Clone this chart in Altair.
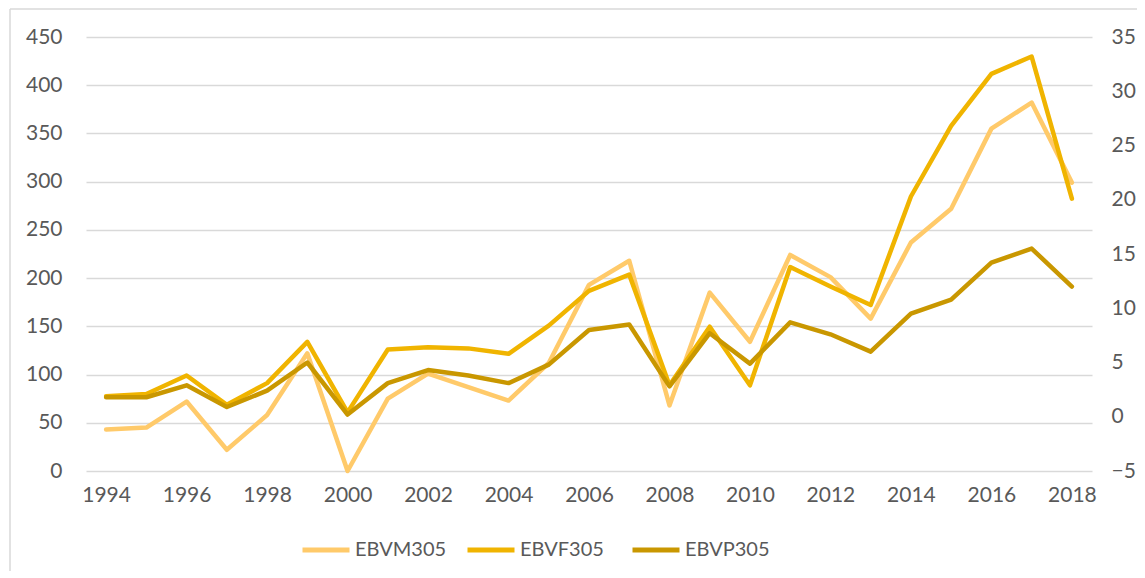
import altair as alt
import pandas as pd

years = list(range(1994, 2019))
series_names = ["EBVM305", "EBVF305", "EBVP305"]
colors = ["#FFCA6A", "#F0B400", "#C99700"]

ebvm305 = [43, 45, 72, 22, 58, 122, 0, 75, 101, 87, 73, 112, 193, 218, 68, 185, 134,
           224, 201, 158, 237, 272, 355, 382, 299]
ebvf305 = [1.9, 2.1, 3.8, 1.1, 3.1, 6.9, 0.4, 6.2, 6.4, 6.3, 5.8, 8.4, 11.6, 13.1, 2.9,
           8.3, 2.9, 13.8, 12.0, 10.3, 20.3, 26.8, 31.6, 33.2, 20.1]
ebvp305 = [1.8, 1.8, 2.9, 0.9, 2.4, 5.0, 0.2, 3.1, 4.3, 3.8, 3.1, 4.8, 8.0, 8.5, 2.8,
           7.7, 4.9, 8.7, 7.6, 6.0, 9.5, 10.8, 14.2, 15.5, 12.0]

left_ticks = list(range(0, 451, 50))
right_ticks = list(range(-5, 36, 5))
x_ticks = list(range(1994, 2019, 2))

df_left = pd.DataFrame({"year": years, "value": ebvm305, "series": "EBVM305"})
df_right = pd.concat([
    pd.DataFrame({"year": years, "value": ebvf305, "series": "EBVF305"}),
    pd.DataFrame({"year": years, "value": ebvp305, "series": "EBVP305"}),
])

FONT = "Lato"
LABEL_COLOR = "#595959"
GRID = "#D9D9D9"
AX_SIZE = 21

color = alt.Color(
    "series:N",
    scale=alt.Scale(domain=series_names, range=colors),
    legend=alt.Legend(
        title=None, orient="none", direction="horizontal",
        legendX=214, legendY=487,
        symbolType="stroke", symbolSize=2209, symbolStrokeWidth=5,
        labelFontSize=20, labelFont=FONT, labelColor=LABEL_COLOR,
        labelOffset=3, columnPadding=10, gridAlign="all",
    ),
    sort=series_names,
)

x = alt.X(
    "year:Q",
    scale=alt.Scale(domain=[1993.5, 2018.5], nice=False, zero=False),
    axis=alt.Axis(values=x_ticks, format="d", title=None, grid=False, domain=False,
                  ticks=False, tickSize=0, labelPadding=13, labelFontSize=AX_SIZE,
                  labelFont=FONT, labelColor=LABEL_COLOR, labelFlush=False),
)

left = alt.Chart(df_left).mark_line(strokeWidth=4.5, strokeJoin="round", strokeCap="round").encode(
    x=x,
    y=alt.Y("value:Q", scale=alt.Scale(domain=[0, 450], nice=False),
            axis=alt.Axis(values=left_ticks, title=None, grid=True, gridColor=GRID,
                          gridWidth=1.5, domain=False, ticks=False, tickSize=0,
                          labelPadding=24, labelFontSize=AX_SIZE, labelFont=FONT,
                          labelColor=LABEL_COLOR)),
    color=color,
)

right = alt.Chart(df_right).mark_line(strokeWidth=4.5, strokeJoin="round", strokeCap="round").encode(
    x=x,
    y=alt.Y("value:Q", scale=alt.Scale(domain=[-5, 35], nice=False, zero=False),
            axis=alt.Axis(values=right_ticks, title=None, grid=False, orient="right",
                          domain=False, ticks=False, tickSize=0, labelPadding=19,
                          labelFontSize=AX_SIZE, labelFont=FONT, labelColor=LABEL_COLOR)),
    color=color,
    detail="series:N",
)

border_top = alt.Chart(pd.DataFrame({"a": [0]})).mark_rule(color=GRID, strokeWidth=1.5).encode(
    x=alt.value(-76), x2=alt.value(1100), y=alt.value(-28)
)
border_left = alt.Chart(pd.DataFrame({"a": [0]})).mark_rule(color=GRID, strokeWidth=1.5).encode(
    x=alt.value(-76), y=alt.value(-28), y2=alt.value(560)
)

chart = alt.layer(left, right).resolve_scale(y="independent")
chart = alt.layer(chart, border_top, border_left).properties(
    width=1006, height=434,
    autosize=alt.AutoSizeParams(type="none"),
    padding={"left": 78, "top": 29, "right": 45, "bottom": 100},
).configure_view(stroke=None)

chart.save("out.html", embed_options={"renderer": "svg", "actions": False})
